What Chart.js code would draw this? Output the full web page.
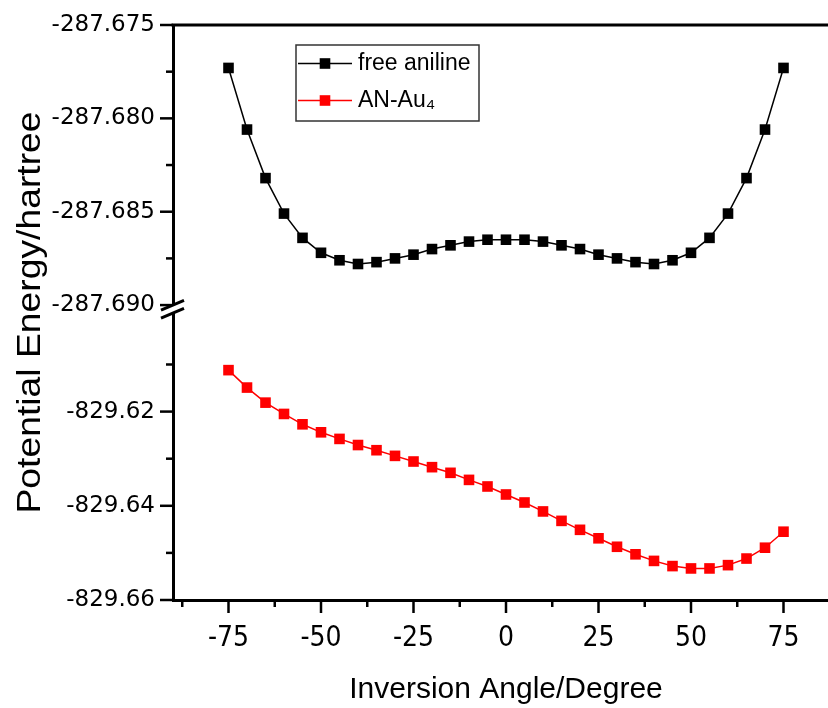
<!DOCTYPE html>
<html>
<head>
<meta charset="utf-8">
<script src="https://cdn.jsdelivr.net/npm/chart.js@4.4.1/dist/chart.umd.min.js"></script>
<style>
    html, body { margin: 0; padding: 0; background: #fff; overflow: hidden; }
    #wrap { width: 850px; height: 708px; }
</style>
</head>
<body>
<div id="wrap"><canvas id="energyChart"></canvas></div>
<script>
const angles = [-75, -70, -65, -60, -55, -50, -45, -40, -35, -30, -25, -20, -15, -10, -5, 0,
    5, 10, 15, 20, 25, 30, 35, 40, 45, 50, 55, 60, 65, 70, 75];

const freeAniline = [-287.6773, -287.6806, -287.6832, -287.6851, -287.6864, -287.6872, -287.6876,
    -287.6878, -287.6877, -287.6875, -287.6873, -287.6870, -287.6868, -287.6866, -287.6865, -287.6865,
    -287.6865, -287.6866, -287.6868, -287.6870, -287.6873, -287.6875, -287.6877, -287.6878, -287.6876,
    -287.6872, -287.6864, -287.6851, -287.6832, -287.6806, -287.6773];

const anAu4 = [-829.6112, -829.6149, -829.6181, -829.6205, -829.6227, -829.6244, -829.6258,
    -829.6271, -829.6282, -829.6294, -829.6306, -829.6318, -829.6330, -829.6345, -829.6359, -829.6376,
    -829.6393, -829.6412, -829.6432, -829.6451, -829.6469, -829.6487, -829.6503, -829.6517, -829.6528,
    -829.6533, -829.6533, -829.6526, -829.6512, -829.6489, -829.6455];

const seriesNames = ['free aniline', 'AN-Au\u2084'];

const xMajor = [-75, -50, -25, 0, 25, 50, 75];
const xMinor = [-87.5, -62.5, -37.5, -12.5, 12.5, 37.5, 62.5, 87.5];
const topMajor = [-287.690, -287.685, -287.680, -287.675];
const topMinor = [-287.6875, -287.6825, -287.6775];
const lowMajor = [-829.66, -829.64, -829.62];
const lowMinor = [-829.65, -829.63, -829.61];

const xTitle = 'Inversion Angle/Degree';
const yTitle = 'Potential Energy/hartree';

const SANS = '"Liberation Sans", Arial, sans-serif';

function toPoints(values) {
    return angles.map((a, i) => ({ x: a, y: values[i] }));
}

function isMajor(list, value) {
    return list.some(m => Math.abs(m - value) < 1e-7);
}

// fixed tick positions, labels only on the major ones
function setTicks(major, minor) {
    return function (scale) {
        scale.ticks = major.concat(minor).sort((a, b) => a - b).map(v => ({ value: v }));
    };
}
function labelTicks(major, digits) {
    return function (value) {
        return isMajor(major, value) ? value.toFixed(digits) : '';
    };
}

// long ticks for labelled values, short ones in between
const tickMarks = {
    id: 'tickMarks',
    afterDraw(chart) {
        const ctx = chart.ctx;
        const area = chart.chartArea;
        ctx.save();
        ctx.strokeStyle = '#000';
        ctx.lineWidth = 2.5;
        ['x', 'yLow', 'yTop'].forEach(id => {
            const scale = chart.scales[id];
            scale.ticks.forEach(t => {
                const len = t.label === '' ? 7 : 13;
                const p = scale.getPixelForValue(t.value);
                ctx.beginPath();
                if (scale.isHorizontal()) {
                    ctx.moveTo(p, area.bottom);
                    ctx.lineTo(p, area.bottom + len);
                } else {
                    ctx.moveTo(area.left, p);
                    ctx.lineTo(area.left - len, p);
                }
                ctx.stroke();
            });
        });
        ctx.restore();
    }
};

// top frame line and the // break where the two y ranges meet
const frameAndBreak = {
    id: 'frameAndBreak',
    afterDraw(chart) {
        const ctx = chart.ctx;
        const area = chart.chartArea;
        ctx.save();
        ctx.strokeStyle = '#000';
        ctx.lineWidth = 3;
        ctx.beginPath();
        ctx.moveTo(area.left - 1.5, area.top);
        ctx.lineTo(area.right + 1.5, area.top);
        ctx.moveTo(area.right, area.top);
        ctx.lineTo(area.right, area.bottom);
        ctx.stroke();

        const x = area.left;
        const y = chart.scales.yTop.bottom;
        const dx1 = -12, dx2 = 11, k = -0.43;
        ctx.fillStyle = '#fff';
        ctx.beginPath();
        ctx.moveTo(x + dx1, y - 4 + dx1 * k);
        ctx.lineTo(x + dx2, y - 4 + dx2 * k);
        ctx.lineTo(x + dx2, y + 4 + dx2 * k);
        ctx.lineTo(x + dx1, y + 4 + dx1 * k);
        ctx.closePath();
        ctx.fill();
        ctx.beginPath();
        [-4, 4].forEach(off => {
            ctx.moveTo(x + dx1, y + off + dx1 * k);
            ctx.lineTo(x + dx2, y + off + dx2 * k);
        });
        ctx.stroke();
        ctx.restore();
    }
};

// one title spanning both y ranges
const sharedYTitle = {
    id: 'sharedYTitle',
    afterDraw(chart) {
        const ctx = chart.ctx;
        const area = chart.chartArea;
        ctx.save();
        ctx.translate(31, (area.top + area.bottom) / 2);
        ctx.rotate(-Math.PI / 2);
        ctx.scale(1.13, 1);
        ctx.font = '33px ' + SANS;
        ctx.fillStyle = '#000';
        ctx.textAlign = 'center';
        ctx.textBaseline = 'middle';
        ctx.fillText(yTitle, 0, 0);
        ctx.restore();
    }
};

// boxed legend inside the plot
const boxLegend = {
    id: 'boxLegend',
    afterDatasetsDraw(chart) {
        const ctx = chart.ctx;
        const area = chart.chartArea;
        const left = area.left + 123, top = area.top + 20, w = 183, h = 76;
        ctx.save();
        ctx.fillStyle = '#fff';
        ctx.fillRect(left, top, w, h);
        ctx.strokeStyle = '#333';
        ctx.lineWidth = 1.5;
        ctx.strokeRect(left, top, w, h);
        ctx.font = '23px ' + SANS;
        ctx.textBaseline = 'middle';
        chart.data.datasets.forEach((ds, i) => {
            const rowY = top + 18.5 + i * 37;
            ctx.strokeStyle = ds.borderColor;
            ctx.lineWidth = ds.borderWidth;
            ctx.beginPath();
            ctx.moveTo(left + 2, rowY);
            ctx.lineTo(left + 56, rowY);
            ctx.stroke();
            ctx.fillStyle = ds.pointBackgroundColor;
            Chart.helpers.drawPoint(ctx, { pointStyle: 'rect', radius: ds.pointRadius, borderWidth: 0 }, left + 29, rowY);
            ctx.fillStyle = '#000';
            ctx.fillText(ds.label, left + 62, rowY);
        });
        ctx.restore();
    }
};

function plotEnergyChart() {
    Chart.defaults.color = '#000';
    Chart.defaults.font.family = SANS;

    const hiddenGrid = { display: true, drawOnChartArea: false, tickLength: 12, tickColor: 'rgba(0,0,0,0)' };
    const yTickFont = { family: '"DejaVu Sans", sans-serif', size: 23 };

    new Chart(
        document.getElementById('energyChart'),
        {
            type: 'line',
            data: {
                datasets: [
                    {
                        label: seriesNames[0],
                        data: toPoints(freeAniline),
                        yAxisID: 'yTop',
                        borderColor: '#000',
                        borderWidth: 1.5,
                        pointStyle: 'rect',
                        pointRadius: 7.5,
                        pointBorderWidth: 0,
                        pointBackgroundColor: '#000'
                    }, {
                        label: seriesNames[1],
                        data: toPoints(anAu4),
                        yAxisID: 'yLow',
                        borderColor: '#f00',
                        borderWidth: 1.5,
                        pointStyle: 'rect',
                        pointRadius: 7.5,
                        pointBorderWidth: 0,
                        pointBackgroundColor: '#f00'
                    }
                ]
            },
            options: {
                responsive: true,
                maintainAspectRatio: false,
                animation: false,
                layout: { padding: { left: 52, top: 25, right: 11, bottom: 0 } },
                plugins: {
                    legend: { display: false },
                    tooltip: { enabled: false }
                },
                scales: {
                    x: {
                        type: 'linear',
                        min: -90,
                        max: 90,
                        afterBuildTicks: setTicks(xMajor, xMinor),
                        afterFit: scale => { scale.height = 108; },
                        grid: hiddenGrid,
                        border: { display: true, color: '#000', width: 3 },
                        ticks: {
                            autoSkip: false,
                            maxRotation: 0,
                            padding: 10,
                            font: { family: '"Liberation Sans Narrow", "Arial Narrow", "DejaVu Sans Condensed", ' + SANS, size: 28 },
                            callback: labelTicks(xMajor, 0)
                        },
                        title: {
                            display: true,
                            text: xTitle,
                            font: { size: 30 },
                            padding: { top: 0, bottom: 0 }
                        }
                    },
                    yLow: {
                        type: 'linear',
                        position: 'left',
                        stack: 'energy',
                        stackWeight: 291,
                        min: -829.66,
                        max: -829.59822,
                        afterBuildTicks: setTicks(lowMajor, lowMinor),
                        afterFit: scale => { scale.width = 121; },
                        grid: hiddenGrid,
                        border: { display: true, color: '#000', width: 3 },
                        ticks: {
                            autoSkip: false,
                            padding: 6,
                            font: yTickFont,
                            callback: labelTicks(lowMajor, 2)
                        }
                    },
                    yTop: {
                        type: 'linear',
                        position: 'left',
                        stack: 'energy',
                        stackWeight: 284,
                        min: -287.69021,
                        max: -287.675,
                        afterBuildTicks: setTicks(topMajor, topMinor),
                        afterFit: scale => { scale.width = 121; },
                        grid: hiddenGrid,
                        border: { display: true, color: '#000', width: 3 },
                        ticks: {
                            autoSkip: false,
                            padding: 6,
                            font: yTickFont,
                            callback: labelTicks(topMajor, 3)
                        }
                    }
                }
            },
            plugins: [tickMarks, frameAndBreak, sharedYTitle, boxLegend]
        });
}

plotEnergyChart();
</script>
</body>
</html>
